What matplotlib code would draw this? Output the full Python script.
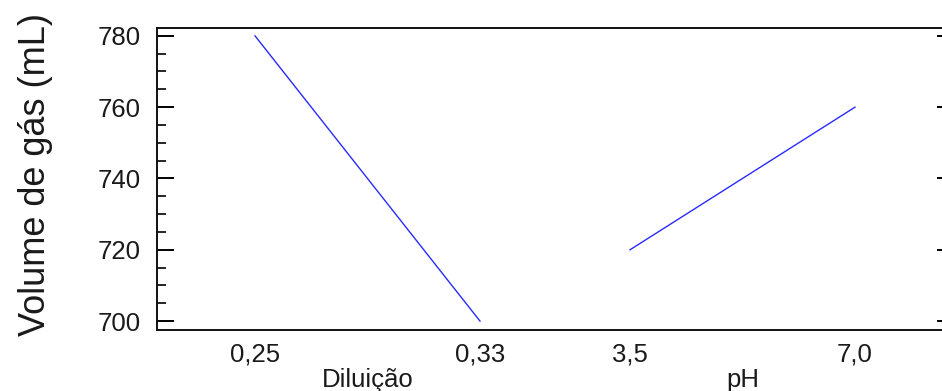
import numpy as np
import matplotlib
matplotlib.use("Agg")
import matplotlib.pyplot as plt
from matplotlib.ticker import MultipleLocator
import matplotlib.transforms as mtransforms

plt.rcParams['font.family'] = ['Liberation Sans', 'DejaVu Sans']

# main effects: factor levels and mean response
factors = ["Diluição", "pH"]
dil_levels = ["0,25", "0,33"]
dil_means = [780, 700]
ph_levels = ["3,5", "7,0"]
ph_means = [720, 760]

# positions on the shared x axis (gap between factors is smaller)
dil_pos = [0.0, 1.0]
ph_pos = [1.6667, 2.6667]

fig = plt.figure(figsize=(9.42, 3.91), dpi=100)
ax = fig.add_axes([157/942, 61/391, (954-157)/942, (330-28)/391])

ax.plot(dil_pos, dil_means, color='#2a2aff', linewidth=1.0)
ax.plot(ph_pos, ph_means, color='#2a2aff', linewidth=1.0)

ax.set_xlim(-0.4356, 3.1067)
ax.set_ylim(697.5, 782.2)
ax.set_xticks(dil_pos + ph_pos)
ax.set_xticklabels(dil_levels + ph_levels)
ax.yaxis.set_major_locator(MultipleLocator(20))
ax.yaxis.set_minor_locator(MultipleLocator(5))

ax.tick_params(axis='x', length=0, pad=9, labelsize=18.5, labelcolor='#1a1a1a')
ax.tick_params(axis='y', which='major', direction='in', length=12.2, width=1.4,
               left=True, right=True, pad=12, labelsize=18.5, labelcolor='#1a1a1a')
ax.tick_params(axis='y', which='minor', direction='in', length=6.5, width=1.2,
               left=True, right=True)

for s in ax.spines.values():
    s.set_linewidth(1.4)
    s.set_color('#111111')

ax.set_ylabel("Volume de gás (mL)", fontsize=26, color='#1a1a1a')
ax.yaxis.set_label_coords(-0.13, 0.515)

# factor names under the level labels
trans = mtransforms.blended_transform_factory(ax.transData, ax.transAxes)
ax.text(np.mean(dil_pos), -0.125, factors[0], transform=trans, ha='center', va='top',
        fontsize=18.5, color='#1a1a1a')
ax.text(np.mean(ph_pos), -0.125, factors[1], transform=trans, ha='center', va='top',
        fontsize=18.5, color='#1a1a1a')

plt.savefig("out.png", dpi=100)
